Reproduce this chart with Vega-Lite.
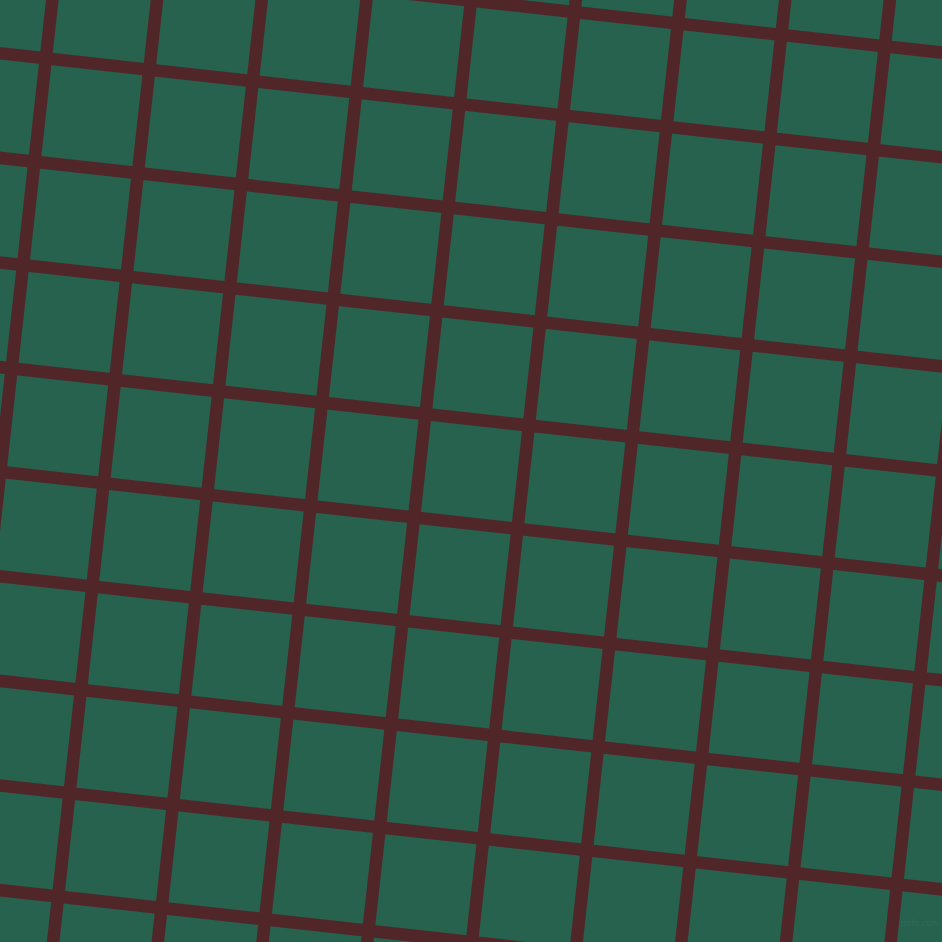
{
  "$schema": "https://vega.github.io/schema/vega-lite/v6.json",
  "width": 942,
  "height": 942,
  "autosize": {"type": "fit", "contains": "padding"},
  "padding": 0,
  "background": "#27624f",
  "config": {"view": {"stroke": null}},
  "layer": [
    {
      "data": {
        "values": [
          {"line": "h-1", "x": -20, "y": -53.5, "x2": 962, "y2": 54.8},
          {"line": "h0", "x": -20, "y": 51.1, "x2": 962, "y2": 159.4},
          {"line": "h1", "x": -20, "y": 155.7, "x2": 962, "y2": 264.0},
          {"line": "h2", "x": -20, "y": 260.3, "x2": 962, "y2": 368.6},
          {"line": "h3", "x": -20, "y": 364.9, "x2": 962, "y2": 473.2},
          {"line": "h4", "x": -20, "y": 469.5, "x2": 962, "y2": 577.8},
          {"line": "h5", "x": -20, "y": 574.1, "x2": 962, "y2": 682.4},
          {"line": "h6", "x": -20, "y": 678.7, "x2": 962, "y2": 787.0},
          {"line": "h7", "x": -20, "y": 783.3, "x2": 962, "y2": 891.6},
          {"line": "h8", "x": -20, "y": 887.9, "x2": 962, "y2": 996.2},
          {"line": "v0", "x": 54.5, "y": -20, "x2": -53.8, "y2": 962},
          {"line": "v1", "x": 159.2, "y": -20, "x2": 50.9, "y2": 962},
          {"line": "v2", "x": 263.9, "y": -20, "x2": 155.6, "y2": 962},
          {"line": "v3", "x": 368.6, "y": -20, "x2": 260.3, "y2": 962},
          {"line": "v4", "x": 473.3, "y": -20, "x2": 365.0, "y2": 962},
          {"line": "v5", "x": 578.0, "y": -20, "x2": 469.7, "y2": 962},
          {"line": "v6", "x": 682.7, "y": -20, "x2": 574.4, "y2": 962},
          {"line": "v7", "x": 787.4, "y": -20, "x2": 679.1, "y2": 962},
          {"line": "v8", "x": 892.1, "y": -20, "x2": 783.8, "y2": 962},
          {"line": "v9", "x": 996.8, "y": -20, "x2": 888.5, "y2": 962}
        ]
      },
      "mark": {"type": "rule", "color": "#512629", "strokeWidth": 12.5, "strokeCap": "butt", "clip": true},
      "encoding": {
        "x": {"field": "x", "type": "quantitative", "scale": {"domain": [0, 942], "range": [0, 942]}, "axis": null},
        "y": {"field": "y", "type": "quantitative", "scale": {"domain": [0, 942], "range": [0, 942]}, "axis": null},
        "x2": {"field": "x2"},
        "y2": {"field": "y2"}
      }
    },
    {
      "data": {"values": [{"label": "pixlis.com", "x": 938, "y": 923}]},
      "mark": {"type": "text", "align": "right", "baseline": "middle", "fontSize": 8.5, "font": "Liberation Sans", "color": "#2f6b58"},
      "encoding": {
        "x": {"field": "x", "type": "quantitative", "scale": {"domain": [0, 942], "range": [0, 942]}, "axis": null},
        "y": {"field": "y", "type": "quantitative", "scale": {"domain": [0, 942], "range": [0, 942]}, "axis": null},
        "text": {"field": "label"}
      }
    }
  ]
}
